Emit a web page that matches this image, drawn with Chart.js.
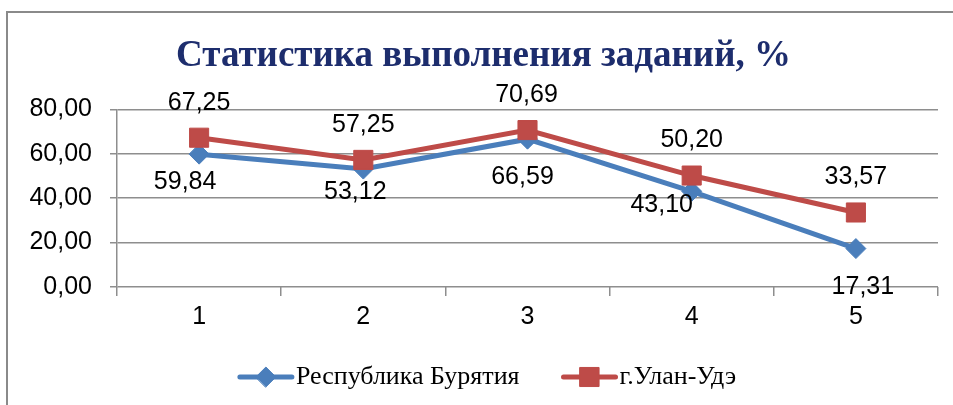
<!DOCTYPE html>
<html lang="ru">
<head>
<meta charset="utf-8">
<title>Статистика выполнения заданий, %</title>
<script src="https://cdn.jsdelivr.net/npm/chart.js@4.4.1/dist/chart.umd.min.js"></script>
<style>
    html, body { margin: 0; padding: 0; background: #ffffff; }
    #wrap { width: 953px; height: 405px; position: relative; }
</style>
</head>
<body>
<div id="wrap"><canvas id="statChart"></canvas></div>
<script>
// =================== ДАННЫЕ ===================
const zadaniya = ['1', '2', '3', '4', '5'];
const buryatia = [59.84, 53.12, 66.59, 43.10, 17.31];
const ulanUde = [67.25, 57.25, 70.69, 50.20, 33.57];
const yTicks = [0, 20, 40, 60, 80];

const SINIY = '#4a7ebb';
const KRASNIY = '#be4b48';
const SETKA = '#8e8e8e';

// сдвиги подписей значений (как в исходной диаграмме)
const sdvigBuryatia = { dx: [-14, -8, -5, -30, 7], dy: [28, 23, 38, 14, 39] };
const sdvigUlanUde = { dx: [0, 0, -1, 0, 0], dy: [-35, -35, -35, -35, -35] };

const fmt = (v) => v.toFixed(2).replace('.', ',');

// =================== РАМКА ===================
const ramka = {
    id: 'ramka',
    beforeDraw(chart) {
        const ctx = chart.ctx;
        ctx.save();
        ctx.strokeStyle = '#8a8a8a';
        ctx.lineWidth = 2;
        ctx.beginPath();
        ctx.moveTo(7, chart.height);
        ctx.lineTo(7, 12);
        ctx.lineTo(chart.width, 12);
        ctx.stroke();
        ctx.restore();
    }
};

// =================== ПОДПИСИ ЗНАЧЕНИЙ ===================
const podpisi = {
    id: 'podpisi',
    afterDatasetsDraw(chart) {
        const ctx = chart.ctx;
        ctx.save();
        ctx.font = '25px "Liberation Sans", Arial, sans-serif';
        ctx.fillStyle = '#000000';
        ctx.textAlign = 'center';
        ctx.textBaseline = 'middle';
        chart.data.datasets.forEach((ds, i) => {
            const meta = chart.getDatasetMeta(i);
            const sdvig = ds.sdvig;
            meta.data.forEach((pt, j) => {
                ctx.fillText(fmt(ds.data[j]), pt.x + sdvig.dx[j], pt.y + sdvig.dy[j]);
            });
        });
        ctx.restore();
    }
};

// =================== ЛЕГЕНДА ===================
const legenda = {
    id: 'legenda',
    afterDraw(chart) {
        const ctx = chart.ctx;
        const y = 377;
        const cx = 487;
        const lineLen = 56;
        const gapText = 2;
        const gapItems = 42;
        ctx.save();
        ctx.font = '26px "Liberation Serif", "Times New Roman", serif';
        const items = chart.data.datasets.map(ds => ({
            ds: ds,
            w: lineLen + gapText + ctx.measureText(ds.label).width
        }));
        const total = items.reduce((s, it) => s + it.w, 0) + gapItems * (items.length - 1);
        let x = cx - total / 2;
        items.forEach(it => {
            const ds = it.ds;
            ctx.strokeStyle = ds.borderColor;
            ctx.lineWidth = ds.borderWidth;
            ctx.lineCap = 'round';
            ctx.beginPath();
            ctx.moveTo(x + 2, y);
            ctx.lineTo(x + lineLen - 2, y);
            ctx.stroke();
            ctx.fillStyle = ds.backgroundColor;
            ctx.lineWidth = 1;
            Chart.helpers.drawPoint(ctx, {
                pointStyle: ds.pointStyle,
                radius: ds.pointRadius,
                borderWidth: 1,
                rotation: 0
            }, x + lineLen / 2, y);
            ctx.fillStyle = '#000000';
            ctx.textAlign = 'left';
            ctx.textBaseline = 'middle';
            ctx.fillText(ds.label, x + lineLen + gapText, y);
            x += it.w + gapItems;
        });
        ctx.restore();
    }
};

// =================== ДИАГРАММА ===================
function sozdatDiagrammu() {
    const ctx = document.getElementById('statChart');

    Chart.defaults.font.family = '"Liberation Sans", Arial, sans-serif';
    Chart.defaults.color = '#000000';

    return new Chart(ctx, {
        type: 'line',
        data: {
            labels: zadaniya,
            datasets: [{
                label: 'Республика Бурятия',
                data: buryatia,
                borderColor: SINIY,
                backgroundColor: SINIY,
                borderWidth: 5,
                pointStyle: 'rectRot',
                pointRadius: 10,
                pointHoverRadius: 10,
                pointBorderWidth: 1,
                tension: 0,
                order: 2,
                sdvig: sdvigBuryatia
            }, {
                label: 'г.Улан-Удэ',
                data: ulanUde,
                borderColor: KRASNIY,
                backgroundColor: KRASNIY,
                borderWidth: 5,
                pointStyle: 'rect',
                pointRadius: 13.5,
                pointHoverRadius: 13.5,
                pointBorderWidth: 1,
                tension: 0,
                order: 1,
                sdvig: sdvigUlanUde
            }]
        },
        options: {
            responsive: true,
            maintainAspectRatio: false,
            animation: false,
            layout: {
                padding: { left: 29, right: 15, top: 12, bottom: 67 }
            },
            plugins: {
                legend: { display: false },
                tooltip: { enabled: false },
                title: {
                    display: true,
                    text: 'Статистика выполнения заданий, %',
                    color: '#1d2d6d',
                    font: { family: '"Liberation Serif", "Times New Roman", serif', size: 37, weight: 'bold' },
                    padding: { top: 22, bottom: 31 }
                }
            },
            scales: {
                x: {
                    offset: true,
                    grid: {
                        display: true,
                        offset: true,
                        drawOnChartArea: false,
                        drawTicks: true,
                        tickLength: 9,
                        color: SETKA,
                        lineWidth: 1.5
                    },
                    border: { display: false },
                    ticks: {
                        font: { size: 25 },
                        padding: 6,
                        maxRotation: 0
                    }
                },
                y: {
                    min: 0,
                    max: 80,
                    afterBuildTicks: (scale) => {
                        scale.ticks = yTicks.map(v => ({ value: v }));
                    },
                    // ширина оси: подписи + отступ + засечка
                    afterFit: (scale) => {
                        scale.width = 88;
                    },
                    grid: {
                        color: SETKA,
                        lineWidth: 1.5,
                        drawTicks: true,
                        tickLength: 7
                    },
                    border: { display: true, color: SETKA, width: 1.5 },
                    ticks: {
                        font: { size: 25 },
                        padding: 18,
                        callback: (v) => fmt(v)
                    }
                }
            }
        },
        plugins: [ramka, podpisi, legenda]
    });
}

document.addEventListener('DOMContentLoaded', () => {
    sozdatDiagrammu();
});
</script>
</body>
</html>
